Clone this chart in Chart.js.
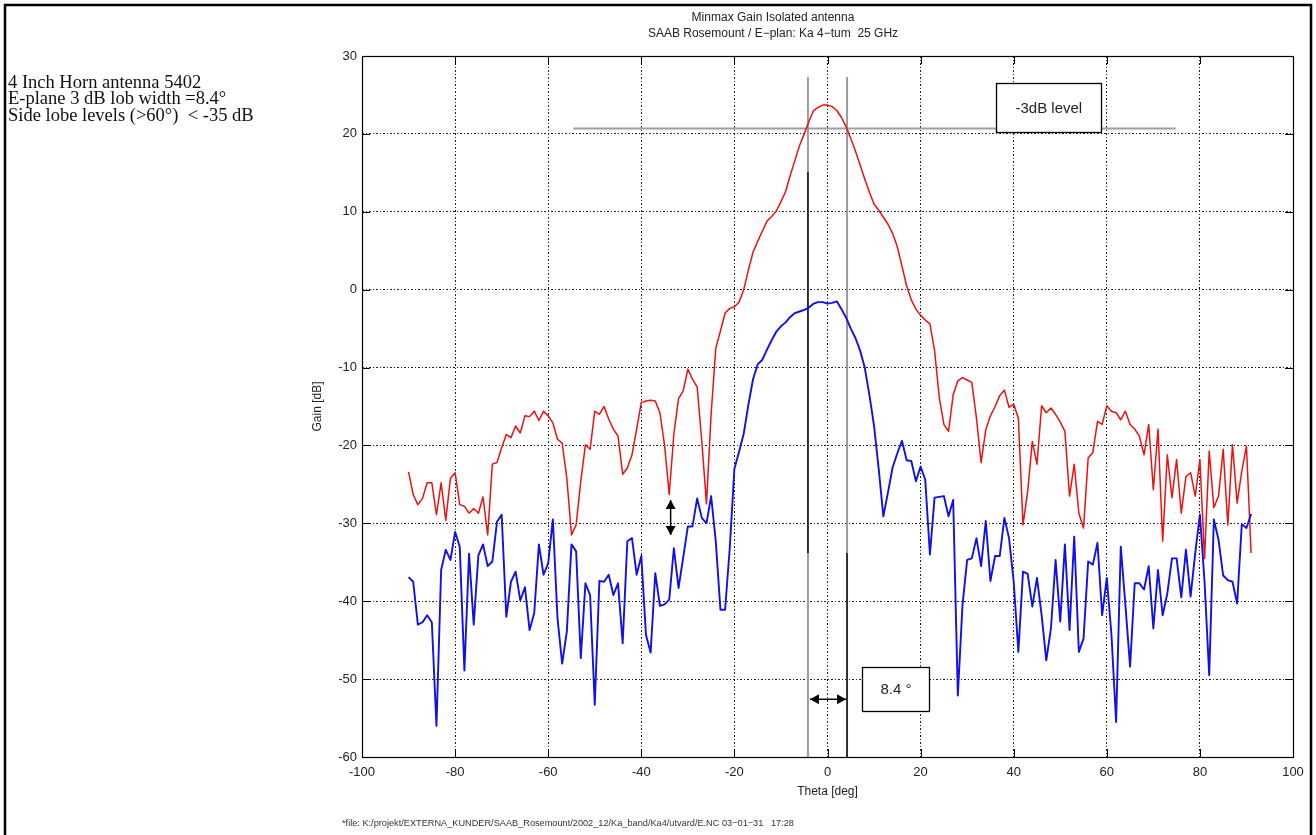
<!DOCTYPE html>
<html>
<head>
<meta charset="utf-8">
<title>Minmax Gain Isolated antenna</title>
<script src="https://cdn.jsdelivr.net/npm/chart.js@4.4.1/dist/chart.umd.min.js"></script>
<style>
  html, body { margin: 0; padding: 0; background: #ffffff; }
  #wrap { position: relative; width: 1316px; height: 835px; overflow: hidden; }
  canvas { display: block; }
</style>
</head>
<body>
<div id="wrap"><canvas id="chart" width="1316" height="835"></canvas></div>
<script>
// Measurement angles [deg]
const theta = [
  -90,-89,-88,-87,-86,-85,-84,-83,-82,-81,
  -80,-79,-78,-77,-76,-75,-74,-73,-72,-71,
  -70,-69,-68,-67,-66,-65,-64,-63,-62,-61,
  -60,-59,-58,-57,-56,-55,-54,-53,-52,-51,
  -50,-49,-48,-47,-46,-45,-44,-43,-42,-41,
  -40,-39,-38,-37,-36,-35,-34,-33,-32,-31,
  -30,-29,-28,-27,-26,-25,-24,-23,-22,-21,
  -20,-19,-18,-17,-16,-15,-14,-13,-12,-11,
  -10,-9,-8,-7,-6,-5,-4,-3,-2,-1,
  0,1,2,3,4,5,6,7,8,9,
  10,11,12,13,14,15,16,17,18,19,
  20,21,22,23,24,25,26,27,28,29,
  30,31,32,33,34,35,36,37,38,39,
  40,41,42,43,44,45,46,47,48,49,
  50,51,52,53,54,55,56,57,58,59,
  60,61,62,63,64,65,66,67,68,69,
  70,71,72,73,74,75,76,77,78,79,
  80,81,82,83,84,85,86,87,88,89,
  90,91
];

// Max gain envelope [dB]
const gainMax = [
  -23.4,-26.3,-27.6,-26.8,-24.8,-24.8,-28.9,-24.8,-29.6,-24.2,
  -23.5,-27.6,-27.8,-28.7,-28.1,-28.7,-26.6,-31.5,-22.4,-22.2,
  -20.3,-18.6,-19.0,-17.5,-18.4,-16.2,-16.3,-15.6,-16.8,-15.6,
  -16.2,-17.1,-19.2,-19.7,-24.2,-31.5,-30.2,-24.6,-19.9,-20.5,
  -15.6,-16.0,-15.0,-16.6,-17.9,-18.8,-23.7,-22.9,-21.2,-17.9,
  -14.5,-14.3,-14.2,-14.3,-15.8,-20.0,-26.3,-18.5,-14.0,-13.0,
  -10.2,-11.5,-12.5,-19.5,-27.5,-16.0,-7.5,-5.3,-3.0,-2.4,
  -2.2,-1.6,0.0,2.5,4.8,6.2,7.5,8.8,9.4,10.1,
  11.3,12.6,14.7,16.6,18.5,20.0,21.6,23.0,23.4,23.7,
  23.7,23.5,23.0,22.1,20.9,19.4,17.8,16.0,14.2,12.5,
  11.0,10.2,9.3,8.4,7.2,5.5,3.0,0.5,-1.3,-2.5,
  -3.3,-3.9,-4.4,-7.8,-13.8,-17.3,-18.2,-13.5,-11.7,-11.3,
  -11.6,-11.9,-16.5,-22.2,-18.0,-16.2,-15.0,-13.6,-12.9,-15.1,
  -14.7,-16.5,-30.2,-25.9,-19.5,-22.4,-14.9,-15.8,-15.2,-16.0,
  -17.0,-18.2,-26.5,-22.4,-28.7,-30.6,-21.6,-20.9,-16.9,-17.3,
  -14.9,-15.6,-15.8,-16.7,-15.6,-17.3,-17.9,-18.8,-21.2,-17.3,
  -25.7,-17.9,-32.3,-21.2,-26.7,-21.8,-28.7,-24.0,-23.5,-26.5,
  -21.8,-34.5,-20.7,-28.0,-26.5,-20.5,-30.2,-19.9,-27.4,-23.3,
  -20.1,-33.8
];

// Min gain envelope [dB]
const gainMin = [
  -36.9,-37.5,-43.0,-42.7,-41.8,-42.7,-56.0,-36.0,-33.4,-34.7,
  -31.1,-33.0,-48.9,-33.9,-43.0,-34.1,-32.7,-35.5,-34.9,-29.8,
  -28.9,-42.0,-37.5,-36.2,-39.9,-38.2,-43.7,-41.5,-32.7,-36.6,
  -35.1,-29.5,-42.2,-48.0,-43.9,-32.7,-33.6,-47.3,-37.7,-39.2,
  -53.3,-37.4,-37.5,-36.6,-39.2,-37.7,-45.4,-32.3,-31.9,-36.6,
  -34.2,-44.3,-46.6,-36.4,-40.6,-40.4,-39.8,-33.2,-38.3,-34.4,
  -30.4,-30.4,-26.8,-29.3,-30.0,-26.5,-32.3,-41.1,-41.1,-33.2,
  -23.0,-20.8,-18.5,-14.8,-11.5,-9.6,-9.0,-7.7,-6.5,-5.4,
  -4.7,-4.2,-3.5,-3.0,-2.8,-2.6,-2.3,-1.8,-1.6,-1.6,
  -1.8,-1.7,-1.5,-2.5,-3.6,-5.0,-6.2,-7.8,-10.0,-13.5,
  -17.5,-23.0,-29.1,-26.0,-22.8,-21.0,-19.4,-21.9,-22.0,-24.6,
  -22.7,-24.4,-34.0,-26.7,-26.6,-26.5,-29.1,-27.0,-52.1,-40.5,
  -34.7,-34.5,-31.9,-35.5,-29.7,-37.4,-34.2,-34.2,-29.3,-31.9,
  -37.5,-46.5,-36.2,-36.5,-40.7,-37.0,-41.8,-47.6,-43.5,-34.7,
  -42.6,-32.7,-43.7,-31.7,-46.5,-44.8,-34.9,-35.3,-32.5,-41.8,
  -37.0,-44.3,-55.5,-33.0,-40.5,-48.4,-37.7,-37.7,-38.5,-35.5,
  -43.5,-36.0,-41.8,-39.0,-34.5,-34.5,-39.5,-33.4,-39.4,-33.8,
  -28.9,-37.5,-49.5,-29.5,-32.1,-36.7,-37.3,-37.5,-40.3,-30.1,
  -30.6,-28.8
];

// Axis ticks
const xTicks = [-100, -80, -60, -40, -20, 0, 20, 40, 60, 80, 100];
const yTicks = [-60, -50, -40, -30, -20, -10, 0, 10, 20, 30];

// Beam width markers: half-power angles, -3 dB level and its extent
const halfPowerAngles = [-4.2, 4.2];
const levelMinus3dB = [20.7];
const levelSpan = [-54.6, 74.8];
// Side-lobe separation marker (angle, upper gain, lower gain)
const separationMarker = [-33.7, -27.0, -31.5];

const titleLines = ['Minmax Gain Isolated antenna', 'SAAB Rosemount / E\u2212plan: Ka 4\u2212tum  25 GHz'];
const noteLines = ['4 Inch Horn antenna 5402', 'E-plane 3 dB lob width =8.4\u00b0', 'Side lobe levels (>60\u00b0)  < -35 dB'];
const footerText = '*file: K:/projekt/EXTERNA_KUNDER/SAAB_Rosemount/2002_12/Ka_band/Ka4/utvard/E.NC 03\u221201\u221231   17:28';

const pts = (xs, ys) => xs.map((x, i) => ({ x: x, y: ys[i] }));

const SANS = '"Liberation Sans", Arial, sans-serif';
const SERIF = '"Liberation Serif", "Times New Roman", serif';

const markerStyle = { pointRadius: 0, tension: 0, fill: false, borderCapStyle: 'butt' };

const datasets = [
  Object.assign({ label: 'Max', data: pts(theta, gainMax), borderColor: '#f01010', borderWidth: 1.5, order: 1 }, markerStyle, { borderJoinStyle: 'round' }),
  Object.assign({ label: 'Min', data: pts(theta, gainMin), borderColor: '#1010e8', borderWidth: 1.9, order: 0 }, markerStyle, { borderJoinStyle: 'round' }),
  Object.assign({ label: 'hp-left', data: [{ x: halfPowerAngles[0], y: 27.3 }, { x: halfPowerAngles[0], y: -60 }], borderColor: '#9c9c9c', borderWidth: 2, order: 3 }, markerStyle),
  Object.assign({ label: 'hp-right', data: [{ x: halfPowerAngles[1], y: 27.3 }, { x: halfPowerAngles[1], y: -60 }], borderColor: '#9c9c9c', borderWidth: 2, order: 3 }, markerStyle),
  Object.assign({ label: 'hp-left-b', data: [{ x: halfPowerAngles[0], y: 15.1 }, { x: halfPowerAngles[0], y: -33.8 }], borderColor: '#111', borderWidth: 1.5, order: 2 }, markerStyle),
  Object.assign({ label: 'hp-right-b', data: [{ x: halfPowerAngles[1], y: -33.8 }, { x: halfPowerAngles[1], y: -60 }], borderColor: '#111', borderWidth: 1.5, order: 2 }, markerStyle),
  Object.assign({ label: 'level', data: [{ x: levelSpan[0], y: levelMinus3dB[0] }, { x: levelSpan[1], y: levelMinus3dB[0] }], borderColor: '#a0a0a0', borderWidth: 2, order: 3 }, markerStyle)
];

function arrowHead(ctx, x, y, dx, dy, len, half) {
  const n = Math.hypot(dx, dy); const ux = dx / n, uy = dy / n;
  ctx.beginPath();
  ctx.moveTo(x, y);
  ctx.lineTo(x - ux * len - uy * half, y - uy * len + ux * half);
  ctx.lineTo(x - ux * len + uy * half, y - uy * len - ux * half);
  ctx.closePath();
  ctx.fill();
}

function doubleArrow(ctx, x1, y1, x2, y2) {
  ctx.save();
  ctx.strokeStyle = '#000'; ctx.fillStyle = '#000'; ctx.lineWidth = 1.5;
  ctx.beginPath(); ctx.moveTo(x1, y1); ctx.lineTo(x2, y2); ctx.stroke();
  arrowHead(ctx, x1, y1, x1 - x2, y1 - y2, 9, 5);
  arrowHead(ctx, x2, y2, x2 - x1, y2 - y1, 9, 5);
  ctx.restore();
}

function labelBox(ctx, xs, ys, x0, x1, y0, y1, text) {
  const L = xs.getPixelForValue(x0), R = xs.getPixelForValue(x1);
  const T = ys.getPixelForValue(y0), B = ys.getPixelForValue(y1);
  ctx.save();
  ctx.fillStyle = '#fff';
  ctx.fillRect(L, T, R - L, B - T);
  ctx.strokeStyle = '#000'; ctx.lineWidth = 1.3;
  ctx.strokeRect(Math.round(L) + 0.5, Math.round(T) + 0.5, Math.round(R - L), Math.round(B - T));
  ctx.fillStyle = '#222'; ctx.font = '15px ' + SANS;
  ctx.textAlign = 'center'; ctx.textBaseline = 'middle';
  ctx.fillText(text, (L + R) / 2, (T + B) / 2 + 1);
  ctx.restore();
}

const decor = {
  id: 'decor',
  afterDatasetsDraw(chart) {
    const { ctx, chartArea: a, scales } = chart;
    const xs = scales.x, ys = scales.y;
    ctx.save();
    ctx.strokeStyle = '#000'; ctx.lineWidth = 1;
    // inward tick marks on all four sides
    ctx.beginPath();
    xTicks.forEach(v => {
      const px = Math.round(xs.getPixelForValue(v)) + 0.5;
      ctx.moveTo(px, a.bottom); ctx.lineTo(px, a.bottom - 8);
      ctx.moveTo(px, a.top); ctx.lineTo(px, a.top + 8);
    });
    yTicks.forEach(v => {
      const py = Math.round(ys.getPixelForValue(v)) + 0.5;
      ctx.moveTo(a.left, py); ctx.lineTo(a.left + 8, py);
      ctx.moveTo(a.right, py); ctx.lineTo(a.right - 8, py);
    });
    ctx.stroke();
    // axes box
    ctx.lineWidth = 1.2;
    ctx.strokeRect(Math.round(a.left) + 0.5, Math.round(a.top) + 0.5, Math.round(a.right - a.left), Math.round(a.bottom - a.top));
    ctx.restore();

    // annotations tied to data coordinates
    const xa = xs.getPixelForValue(separationMarker[0]);
    doubleArrow(ctx, xa, ys.getPixelForValue(separationMarker[1]), xa, ys.getPixelForValue(separationMarker[2]));
    const yArrow = ys.getPixelForValue(-52.6);
    doubleArrow(ctx, xs.getPixelForValue(halfPowerAngles[0]) + 2, yArrow, xs.getPixelForValue(halfPowerAngles[1]) - 1, yArrow);
    labelBox(ctx, xs, ys, 36.3, 58.8, 26.5, 20.2, '-3dB level');
    labelBox(ctx, xs, ys, 7.5, 21.9, -48.4, -54.0, '8.4 \u00b0');
  },
  afterDraw(chart) {
    const { ctx, chartArea: a } = chart;
    ctx.save();
    // page frame
    ctx.strokeStyle = '#000'; ctx.lineWidth = 2.5;
    ctx.strokeRect(5, 5, 1306, 840);
    // title
    ctx.fillStyle = '#222'; ctx.font = '12px ' + SANS;
    ctx.textAlign = 'center'; ctx.textBaseline = 'middle';
    ctx.fillText(titleLines[0], 773, 17.5);
    ctx.fillText(titleLines[1], 773, 33.5);
    // axis titles
    ctx.fillText('Theta [deg]', (a.left + a.right) / 2, 792);
    ctx.save();
    ctx.translate(318, (a.top + a.bottom) / 2);
    ctx.rotate(-Math.PI / 2);
    ctx.fillText('Gain [dB]', 0, 0);
    ctx.restore();
    // notes
    ctx.fillStyle = '#111'; ctx.font = '18.5px ' + SERIF;
    ctx.textAlign = 'left'; ctx.textBaseline = 'alphabetic';
    noteLines.forEach((t, i) => ctx.fillText(t, 8, 87.5 + i * 16.6));
    // footer
    ctx.fillStyle = '#333'; ctx.font = '9.2px ' + SANS;
    ctx.textBaseline = 'middle';
    ctx.fillText(footerText, 342, 823);
    ctx.restore();
  }
};

new Chart(document.getElementById('chart'), {
  type: 'line',
  data: { datasets: datasets },
  options: {
    responsive: false,
    animation: false,
    devicePixelRatio: 1,
    layout: { padding: { top: 56, right: 23, left: 0, bottom: 0 } },
    plugins: { legend: { display: false }, tooltip: { enabled: false }, title: { display: false } },
    elements: { point: { radius: 0 } },
    scales: {
      x: {
        type: 'linear', min: -100, max: 100,
        afterFit(s) { s.height = 78; },
        afterBuildTicks(s) { s.ticks = xTicks.map(v => ({ value: v })); },
        ticks: { color: '#222', font: { family: SANS, size: 13 }, padding: 8, maxRotation: 0, autoSkip: false },
        grid: { color: '#222', lineWidth: 1, drawTicks: false },
        border: { display: false, dash: [2, 2, 1, 2] }
      },
      y: {
        type: 'linear', min: -60, max: 30,
        afterFit(s) { s.width = 362; },
        afterBuildTicks(s) { s.ticks = yTicks.map(v => ({ value: v })); },
        ticks: { color: '#222', font: { family: SANS, size: 13 }, padding: 5, autoSkip: false },
        grid: { color: '#222', lineWidth: 1, drawTicks: false },
        border: { display: false, dash: [2, 2, 1, 2] }
      }
    }
  },
  plugins: [decor]
});
</script>
</body>
</html>
